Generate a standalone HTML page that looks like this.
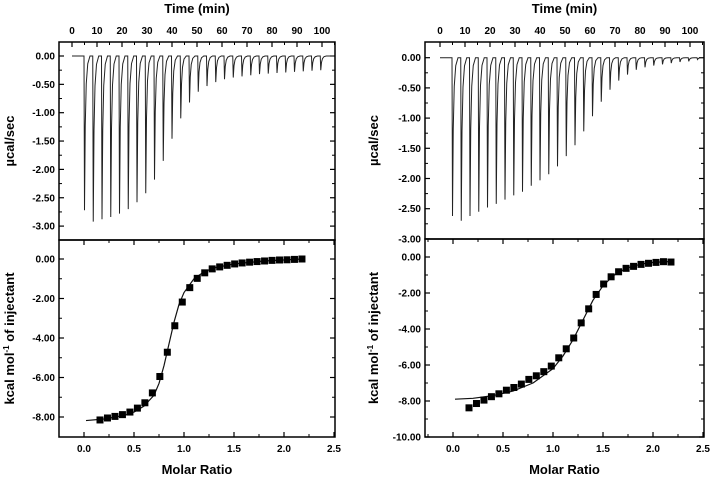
<!DOCTYPE html>
<html><head><meta charset="utf-8"><style>
html,body{margin:0;padding:0;background:#fff}
svg{display:block;font-family:"Liberation Sans",Arial,sans-serif}
</style></head><body>
<svg id="c" width="712" height="479" viewBox="0 0 712 479"></svg>
<script>
// ---- data ----
const injTimesStart = 4.8, injStep = 3.5;
const leftPeaks = [2.72,2.92,2.88,2.84,2.78,2.70,2.58,2.42,2.18,1.85,1.46,1.10,0.82,0.63,0.53,0.46,0.41,0.38,0.36,0.34,0.32,0.31,0.30,0.29,0.28,0.27,0.26,0.25];
const rightPeaks = [2.62,2.70,2.62,2.55,2.48,2.42,2.35,2.28,2.22,2.12,2.03,1.93,1.80,1.63,1.45,1.22,0.97,0.73,0.53,0.38,0.28,0.20,0.16,0.13,0.11,0.09,0.07,0.06,0.03];
const ratioStart = 0.16, ratioStep = 0.0748;
const leftPoints = [-8.15,-8.05,-7.97,-7.88,-7.75,-7.55,-7.28,-6.78,-5.95,-4.72,-3.38,-2.18,-1.45,-0.98,-0.70,-0.50,-0.40,-0.32,-0.25,-0.20,-0.16,-0.13,-0.10,-0.07,-0.05,-0.04,-0.02,0.0];
const rightPoints = [-8.38,-8.14,-7.95,-7.76,-7.6,-7.4,-7.25,-7.06,-6.8,-6.6,-6.37,-6.06,-5.6,-5.1,-4.5,-3.66,-2.88,-2.08,-1.5,-1.1,-0.82,-0.63,-0.52,-0.41,-0.35,-0.3,-0.26,-0.28];
const leftFitX = [0.02,0.2,0.4,0.5,0.6,0.7,0.75,0.8,0.85,0.9,0.95,1.0,1.1,1.2,1.3,1.5,1.8,2.18];
const leftFitY = [-8.18,-8.1,-7.92,-7.75,-7.45,-6.9,-6.3,-5.4,-4.3,-3.2,-2.3,-1.7,-1.0,-0.65,-0.45,-0.25,-0.1,0.0];
const rightFitX = [0.02,0.2,0.4,0.6,0.8,1.0,1.1,1.2,1.3,1.4,1.5,1.6,1.7,1.8,1.9,2.0,2.18];
const rightFitY = [-7.9,-7.85,-7.7,-7.45,-7.0,-6.2,-5.5,-4.6,-3.5,-2.4,-1.6,-1.05,-0.72,-0.5,-0.38,-0.3,-0.25];
const timeTicks = [0,10,20,30,40,50,60,70,80,90,100];
const ratioTicks = [0.0,0.5,1.0,1.5,2.0,2.5];

const svg = document.getElementById('c');
const NS = 'http://www.w3.org/2000/svg';
function mk(tag, attrs, parent){const e=document.createElementNS(NS,tag);for(const k in attrs)e.setAttribute(k,attrs[k]);(parent||svg).appendChild(e);return e;}

function panel(cfg){
  const g = mk('g',{});
  
  
  const L=cfg.x0,R=cfg.x1,T=42,M=cfg.mid,B=437;
  const tx = t => cfg.t0 + t*2.5;
  const ty = v => cfg.ty0 + (-v)*cfg.tys;
  const rx = r => cfg.r0 + r*cfg.rs;
  const ry = v => cfg.ry0 + (-v)*cfg.rys;
  // frames
  const f1 = mk('rect',{x:L,y:T,width:R-L,height:M-T,fill:'none',stroke:'#000','stroke-width':1.5},g);
  
  const f2 = mk('rect',{x:L,y:M,width:R-L,height:B-M,fill:'none',stroke:'#000','stroke-width':1.5},g);
  
  // time ticks
  timeTicks.forEach(t=>{
    const x=tx(t);
    mk('line',{x1:x,y1:T,x2:x,y2:T+5,stroke:'#000','stroke-width':1.2},g);
    mk('line',{x1:tx(t+5),y1:T,x2:tx(t+5),y2:T+3,stroke:'#000','stroke-width':1},g);
    const lb = mk('text',{x:x,y:34,'text-anchor':'middle','font-size':10,'font-weight':'bold'},g);
    lb.textContent=t;
    
  });
  // top y ticks
  cfg.tTicks.forEach(v=>{
    const y=ty(v);
    mk('line',{x1:L,y1:y,x2:L+5,y2:y,stroke:'#000','stroke-width':1.2},g);
    mk('line',{x1:R,y1:y,x2:R-5,y2:y,stroke:'#000','stroke-width':1.2},g);
    const yh=ty(v-0.25);
    if(yh<M-2){mk('line',{x1:L,y1:yh,x2:L+3,y2:yh,stroke:'#000'},g);mk('line',{x1:R,y1:yh,x2:R-3,y2:yh,stroke:'#000'},g);}
    const lb=mk('text',{x:L-4,y:y+3.5,'text-anchor':'end','font-size':10,'font-weight':'bold'},g);
    lb.textContent=v.toFixed(2);
    
  });
  // thermogram
  let d='M'+tx(0)+' '+ty(0);
  cfg.peaks.forEach((h,i)=>{
    const t=injTimesStart+i*injStep;
    d+=' L'+tx(t)+' '+ty(0)+' L'+tx(t+0.2)+' '+ty(-h)+' L'+tx(t+0.5)+' '+ty(-h*0.45)+' L'+tx(t+0.9)+' '+ty(-h*0.18)+' L'+tx(t+1.5)+' '+ty(-h*0.05)+' L'+tx(t+2.4)+' '+ty(0);
  });
  d+=' L'+(R-1)+' '+ty(0);
  const p=mk('path',{d:d,fill:'none',stroke:'#222','stroke-width':1},g);
  
  // bottom ticks
  ratioTicks.forEach(r=>{
    const x=rx(r);
    mk('line',{x1:x,y1:B,x2:x,y2:B-5,stroke:'#000','stroke-width':1.2},g);
    mk('line',{x1:x,y1:M,x2:x,y2:M+5,stroke:'#000','stroke-width':1.2},g);
    mk('line',{x1:rx(r-0.25),y1:B,x2:rx(r-0.25),y2:B-3,stroke:'#000'},g);
    mk('line',{x1:rx(r-0.25),y1:M,x2:rx(r-0.25),y2:M+3,stroke:'#000'},g);
    const lb=mk('text',{x:x,y:B+15,'text-anchor':'middle','font-size':10,'font-weight':'bold'},g);
    lb.textContent=r.toFixed(1);
    
  });
  cfg.rTicks.forEach(v=>{
    const y=ry(v);
    mk('line',{x1:L,y1:y,x2:L+5,y2:y,stroke:'#000','stroke-width':1.2},g);
    mk('line',{x1:R,y1:y,x2:R-5,y2:y,stroke:'#000','stroke-width':1.2},g);
    const yh=ry(v-1);
    if(yh<B-2&&yh>M+2){mk('line',{x1:L,y1:yh,x2:L+3,y2:yh,stroke:'#000'},g);mk('line',{x1:R,y1:yh,x2:R-3,y2:yh,stroke:'#000'},g);}
    const lb=mk('text',{x:L-4,y:y+3.5,'text-anchor':'end','font-size':10,'font-weight':'bold'},g);
    lb.textContent=v.toFixed(2);
    
  });
  // fit line
  const fd=cfg.fitX.map((r,i)=>(i?'L':'M')+rx(r)+' '+ry(cfg.fitY[i])).join(' ');
  const fl=mk('path',{d:fd,fill:'none',stroke:'#111','stroke-width':1.2,'stroke-linejoin':'round'},g);
  
  cfg.points.forEach((v,i)=>{
    const r=ratioStart+i*ratioStep;
    const s=mk('rect',{x:rx(r)-3.5,y:ry(v)-3.5,width:7,height:7,fill:'#000'},g);
    
  });
  // titles
  const cx=(L+R)/2;
  const t1=mk('text',{x:cx,y:13,'text-anchor':'middle','font-size':13,'font-weight':'bold'},g);
  t1.textContent='Time (min)';
  
  const t2=mk('text',{x:cx,y:474,'text-anchor':'middle','font-size':13,'font-weight':'bold'},g);
  t2.textContent='Molar Ratio';
  
  const t3=mk('text',{x:0,y:0,'text-anchor':'middle','font-size':13,'font-weight':'bold',transform:'translate('+cfg.ytx+','+((T+M)/2)+') rotate(-90)'},g);
  t3.textContent='µcal/sec';
  
  const t4=mk('text',{x:0,y:0,'text-anchor':'middle','font-size':13,'font-weight':'bold',transform:'translate('+cfg.ytx+','+((M+B)/2)+') rotate(-90)'},g);
  t4.innerHTML='kcal mol<tspan dy="-5" font-size="8">-1</tspan><tspan dy="5"> of injectant</tspan>';
  
}

panel({name:'left-panel',x0:59,x1:335,mid:240,t0:72,ty0:56,tys:56.7,r0:84,rs:100,ry0:259,rys:19.75,
  tTicks:[0,-0.5,-1,-1.5,-2,-2.5,-3],rTicks:[0,-2,-4,-6,-8],peaks:leftPeaks,points:leftPoints,fitX:leftFitX,fitY:leftFitY,ytx:14});
panel({name:'right-panel',x0:425,x1:704,mid:239,t0:440,ty0:57.7,tys:60.4,r0:453,rs:100,ry0:257,rys:18,
  tTicks:[0,-0.5,-1,-1.5,-2,-2.5,-3],rTicks:[0,-2,-4,-6,-8,-10],peaks:rightPeaks,points:rightPoints,fitX:rightFitX,fitY:rightFitY,ytx:378});
</script>
</body></html>
